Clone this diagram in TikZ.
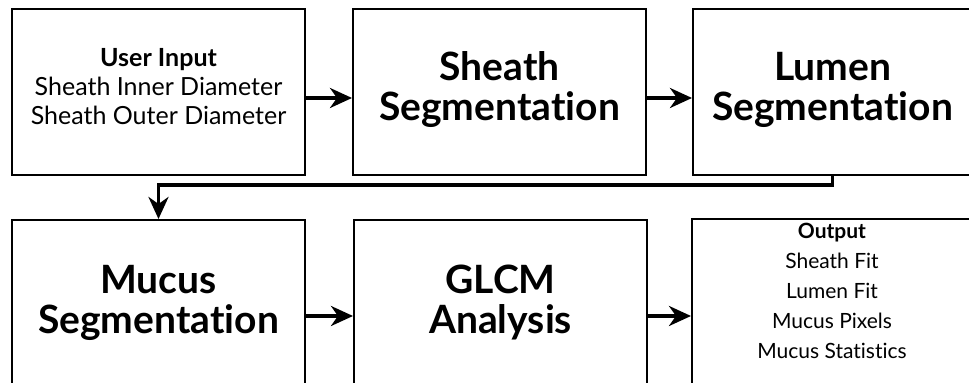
\documentclass[tikz,border=0pt]{standalone}
\usepackage{fontspec}
\setmainfont{Lato}[Ligatures=NoCommon]
\usetikzlibrary{positioning,arrows.meta}

\begin{document}
\begin{tikzpicture}[>={Stealth[length=11pt,width=10pt,inset=3.5pt]},
    stage/.style={draw,line width=1pt,align=center,minimum width=146.5pt,minimum height=83pt,inner sep=2pt},
    big/.style={font=\fontsize{19.5}{20}\selectfont\bfseries},
    flow/.style={->,line width=1.8pt}]
  \useasboundingbox (0,0) rectangle (484.5pt,-191.5pt);
  \node[stage,anchor=north west,font=\fontsize{12.5}{14.5}\selectfont] (inp) at (5.5pt,-4pt) {\textbf{User Input}\\Sheath Inner Diameter\\Sheath Outer Diameter\\[-8.5pt]\mbox{}};
  \node[stage,big,right=23pt of inp] (sheath) {Sheath\\Segmentation\\[-14pt]\mbox{}};
  \node[stage,big,right=22.5pt of sheath,minimum width=139.5pt] (lumen) {Lumen\\Segmentation\\[-14pt]\mbox{}};
  \node[stage,big,below=21.5pt of inp] (mucus) {Mucus\\Segmentation};
  \node[stage,big,right=23.5pt of mucus] (glcm) {GLCM\\Analysis};
  \node[stage,right=21.5pt of glcm,minimum width=140pt,font=\fontsize{10.5}{15}\selectfont] (out) {\textbf{Output}\\Sheath Fit\\Lumen Fit\\Mucus Pixels\\Mucus Statistics\\[-3pt]\mbox{}};
  \draw[flow] ([yshift=-3pt]inp.east) -- ([yshift=-3pt]sheath.west);
  \draw[flow] ([yshift=-3pt]sheath.east) -- ([yshift=-3pt]lumen.west);
  \draw[flow] (lumen.south) -- ++(0,-4.5pt) -| (mucus.north);
  \draw[flow] ([yshift=-6.5pt]mucus.east) -- ([yshift=-6.5pt]glcm.west);
  \draw[flow] ([yshift=-6.5pt]glcm.east) -- ([yshift=-6.5pt]out.west);
\end{tikzpicture}
\end{document}
